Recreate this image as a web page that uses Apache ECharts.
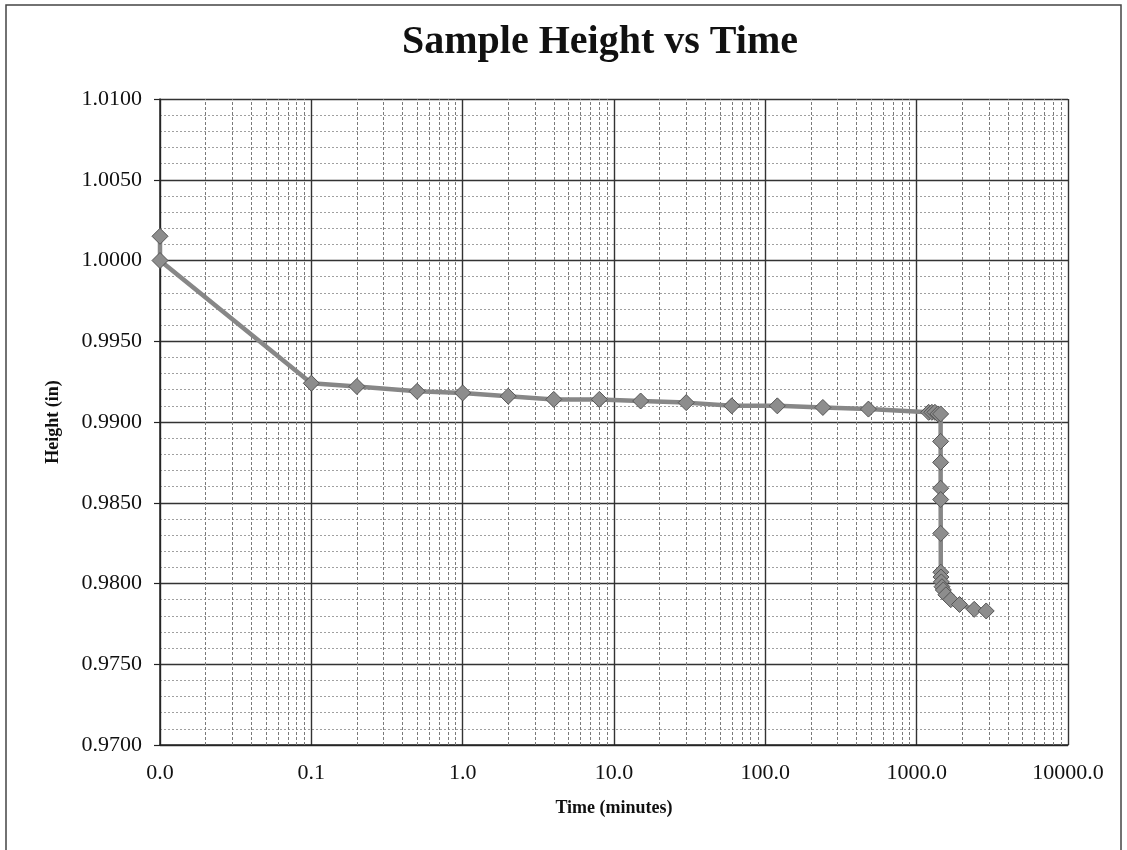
<!DOCTYPE html>
<html>
<head>
<meta charset="utf-8">
<title>Sample Height vs Time</title>
<script src="https://cdn.jsdelivr.net/npm/echarts@6/dist/echarts.min.js"></script>
<style>
  html, body { margin: 0; padding: 0; background: #ffffff; }
  #chart { width: 1127px; height: 850px; }
</style>
</head>
<body>
<div id="chart"></div>
<script>
// Elapsed time of each reading (minutes)
const timeMin = [
  0.01, 0.01, 0.1, 0.2, 0.5, 1, 2, 4, 8, 15, 30, 60, 120, 240, 480,
  1200, 1260, 1320, 1380, 1440,
  1440.1, 1440.25, 1440.5, 1441, 1442, 1444, 1448, 1455, 1470, 1500,
  1560, 1680, 1920, 2400, 2880
];
// Sample height at each reading (inches)
const heightIn = [
  1.0015, 1.0000, 0.9924, 0.9922, 0.9919, 0.9918, 0.9916, 0.9914, 0.9914, 0.9913, 0.9912, 0.9910, 0.9910, 0.9909, 0.9908,
  0.9906, 0.9906, 0.9906, 0.9905, 0.9905,
  0.9888, 0.9875, 0.9859, 0.9852, 0.9831, 0.9807, 0.9804, 0.9801, 0.9798, 0.9796,
  0.9793, 0.9790, 0.9787, 0.9784, 0.9783
];
// Axis ranges
const xDecades = [0.01, 0.1, 1, 10, 100, 1000, 10000];
const yMin = 0.97, yMax = 1.01, yStep = 0.005;

// Log-cycle gridlines at 2..9 within each decade
const xMinorLines = [];
for (let d = 0; d < xDecades.length - 1; d++) {
  for (let k = 2; k <= 9; k++) xMinorLines.push(+(xDecades[d] * k).toPrecision(6));
}

const points = timeMin.map((t, i) => [t, heightIn[i]]);
const serif = '"Liberation Serif", "DejaVu Serif", serif';

const chart = echarts.init(document.getElementById('chart'), null, { renderer: 'canvas' });
chart.setOption({
  animation: false,
  backgroundColor: '#ffffff',
  title: {
    text: 'Sample Height vs Time',
    left: 595,
    top: 18,
    textAlign: 'center',
    textStyle: { fontFamily: serif, fontSize: 40, fontWeight: 'bold', color: '#111' }
  },
  graphic: [{
    type: 'rect',
    silent: true,
    shape: { x: 6, y: 5, width: 1115, height: 900 },
    style: { fill: 'none', stroke: '#444', lineWidth: 1.5 }
  }],
  grid: { left: 160, top: 99, right: 59, bottom: 105, containLabel: false },
  xAxis: {
    type: 'log',
    logBase: 10,
    min: xDecades[0],
    max: xDecades[xDecades.length - 1],
    name: 'Time (minutes)',
    nameLocation: 'middle',
    nameGap: 54,
    nameTextStyle: { fontFamily: serif, fontSize: 18, fontWeight: 'bold', color: '#111' },
    axisLine: { show: true, lineStyle: { color: '#222', width: 1.5 } },
    axisTick: { show: false },
    axisLabel: {
      fontFamily: serif, fontSize: 22, color: '#111', margin: 17,
      formatter: v => Number(v).toFixed(1)
    },
    splitLine: { show: true, lineStyle: { color: '#333', width: 1.4 } }
  },
  yAxis: {
    type: 'value',
    min: yMin,
    max: yMax,
    interval: yStep,
    name: 'Height (in)',
    nameLocation: 'middle',
    nameGap: 98,
    nameTextStyle: { fontFamily: serif, fontSize: 18, fontWeight: 'bold', color: '#111' },
    axisLine: { show: true, lineStyle: { color: '#222', width: 1.5 } },
    axisTick: { show: true, length: 6, lineStyle: { color: '#222', width: 1.2 } },
    axisLabel: {
      fontFamily: serif, fontSize: 22, color: '#111', margin: 18,
      formatter: v => Number(v).toFixed(4)
    },
    splitLine: { show: true, lineStyle: { color: '#333', width: 1.4 } },
    minorTick: { show: false, splitNumber: 5 },
    minorSplitLine: { show: true, lineStyle: { color: '#a0a0a0', width: 1, type: [2, 2] } }
  },
  series: [
    {
      // log-cycle minor gridlines
      type: 'line',
      data: [],
      z: 1,
      silent: true,
      markLine: {
        silent: true,
        symbol: ['none', 'none'],
        label: { show: false },
        lineStyle: { color: '#7a7a7a', width: 1, type: [3, 2] },
        emphasis: { disabled: true },
        data: xMinorLines.map(v => ({ xAxis: v }))
      }
    },
    {
      name: 'Height',
      type: 'line',
      data: points,
      z: 5,
      clip: false,
      symbol: 'diamond',
      symbolSize: 16,
      lineStyle: { color: '#878787', width: 4.5 },
      itemStyle: { color: '#8d8d8d', borderColor: '#555', borderWidth: 1 }
    }
  ]
});
</script>
</body>
</html>
